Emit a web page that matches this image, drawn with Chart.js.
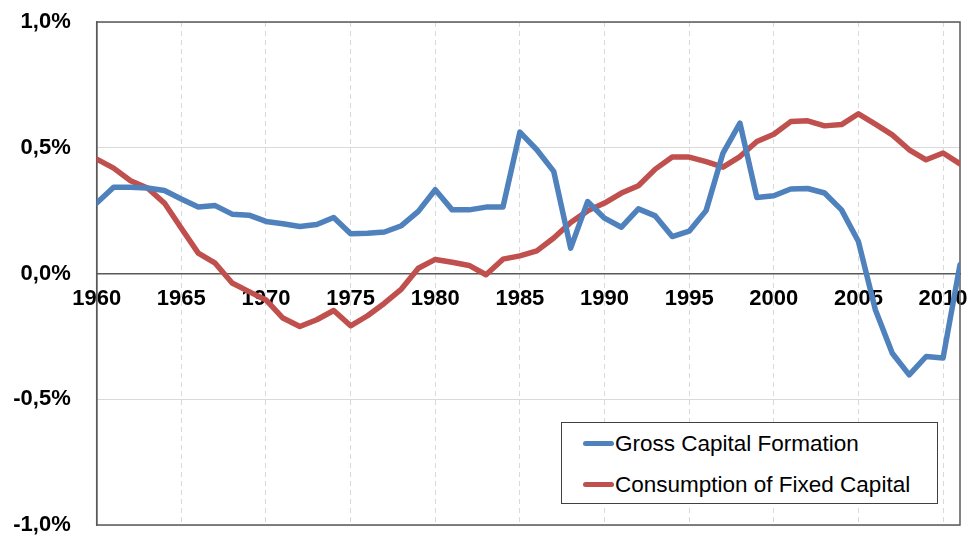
<!DOCTYPE html>
<html lang="en">

<head>
    <meta charset="UTF-8">
    <title>Gross Capital Formation vs Consumption of Fixed Capital</title>
    <script src="https://cdn.jsdelivr.net/npm/chart.js"></script>
    <style>
        body {
            margin: 0;
            background: #fff;
        }

        #wrap {
            position: relative;
            width: 971px;
            height: 540px;
        }

        #legend {
            position: absolute;
            left: 561px;
            top: 422px;
            width: 377px;
            height: 82px;
            box-sizing: border-box;
            border: 1px solid #404040;
            background: #fff;
            font-family: "Liberation Sans", Arial, sans-serif;
            font-size: 22.5px;
            color: #000;
        }

        #legend .row {
            display: flex;
            align-items: center;
            height: 41px;
        }

        #legend .swatch {
            width: 31px;
            height: 5px;
            border-radius: 3px;
            margin-left: 21px;
            margin-right: 1px;
        }
    </style>
</head>

<body>
    <div id="wrap">
        <canvas id="lineChart" width="971" height="540"></canvas>
        <div id="legend"></div>
    </div>

    <script>
        const years = [];
        for (let y = 1960; y <= 2011; y++) years.push(y);

        // % values, 1960..2011
        const grossCapitalFormation = [
            0.28, 0.343, 0.343, 0.34, 0.33, 0.296, 0.264, 0.27, 0.236, 0.232,
            0.207, 0.198, 0.187, 0.195, 0.223, 0.158, 0.16, 0.165, 0.19, 0.247,
            0.333, 0.253, 0.253, 0.264, 0.264, 0.562, 0.492, 0.406, 0.101, 0.286,
            0.22, 0.184, 0.257, 0.229, 0.147, 0.168, 0.25, 0.479, 0.598, 0.302,
            0.309, 0.336, 0.338, 0.32, 0.253, 0.127, -0.144, -0.317, -0.403, -0.33,
            -0.336, 0.035
        ];
        const consumptionFixedCapital = [
            0.455, 0.419, 0.369, 0.34, 0.28, 0.18, 0.081, 0.041, -0.038, -0.072,
            -0.105, -0.177, -0.211, -0.184, -0.147, -0.208, -0.168, -0.118, -0.062, 0.021,
            0.056, 0.045, 0.032, -0.005, 0.057, 0.07, 0.09, 0.141, 0.203, 0.249,
            0.28, 0.32, 0.349, 0.415, 0.463, 0.463, 0.445, 0.423, 0.465, 0.525,
            0.554, 0.604, 0.607, 0.587, 0.592, 0.635, 0.594, 0.551, 0.492, 0.452,
            0.479, 0.436
        ];
        const seriesNames = ["Gross Capital Formation", "Consumption of Fixed Capital"];
        const seriesColors = ["#4F81BD", "#C0504D"];

        const tickFont = { family: "'Liberation Sans', Arial, sans-serif", size: 22, weight: 'bold' };
        const frameColor = '#595959';

        // box around the plot area
        const framePlugin = {
            id: 'frame',
            beforeDatasetsDraw(chart) {
                const { ctx, chartArea: a } = chart;
                ctx.save();
                ctx.strokeStyle = frameColor;
                ctx.lineWidth = 1.5;
                ctx.strokeRect(a.left, a.top, a.right - a.left, a.bottom - a.top);
                ctx.restore();
            }
        };

        const toPoints = vals => years.map((y, i) => ({ x: y, y: vals[i] }));

        const chart = new Chart(document.getElementById('lineChart').getContext('2d'), {
            type: 'line',
            data: {
                datasets: [
                    {
                        label: seriesNames[0],
                        data: toPoints(grossCapitalFormation),
                        borderColor: seriesColors[0],
                        borderWidth: 5.5,
                        pointRadius: 0,
                        tension: 0,
                        borderJoinStyle: 'round',
                        borderCapStyle: 'round'
                    },
                    {
                        label: seriesNames[1],
                        data: toPoints(consumptionFixedCapital),
                        borderColor: seriesColors[1],
                        borderWidth: 5.5,
                        pointRadius: 0,
                        tension: 0,
                        borderJoinStyle: 'round',
                        borderCapStyle: 'round'
                    }
                ]
            },
            options: {
                responsive: false,
                animation: false,
                layout: { padding: { left: 0, top: 22, right: 11, bottom: 15 } },
                plugins: {
                    legend: { display: false },
                    tooltip: { enabled: false }
                },
                scales: {
                    x: {
                        type: 'linear',
                        min: 1960,
                        max: 2011,
                        position: { y: 0 },
                        afterFit: s => { s.height = 0; },
                        grid: {
                            color: c => (c.tick && c.tick.value === 1960) ? 'rgba(0,0,0,0)' : '#d9d9d9',
                            lineWidth: 1,
                            drawTicks: true,
                            tickLength: 12,
                            tickColor: 'rgba(0,0,0,0)'
                        },
                        border: { display: true, color: frameColor, width: 1.5, dash: [5, 4] },
                        ticks: {
                            stepSize: 5,
                            includeBounds: false,
                            autoSkip: false,
                            maxRotation: 0,
                            padding: 0,
                            color: '#000',
                            font: tickFont,
                            callback: v => String(v)
                        }
                    },
                    y: {
                        min: -1,
                        max: 1,
                        afterFit: s => { s.width = 96.7; },
                        grid: {
                            color: c => (c.tick && c.tick.value === 0) ? 'rgba(0,0,0,0)' : '#d9d9d9',
                            lineWidth: 1,
                            drawTicks: true,
                            tickLength: 26,
                            tickColor: 'rgba(0,0,0,0)'
                        },
                        border: { display: true, color: frameColor, width: 1.5 },
                        ticks: {
                            stepSize: 0.5,
                            padding: 0,
                            color: '#000',
                            font: tickFont,
                            callback: v => v.toFixed(1).replace('.', ',') + '%'
                        }
                    }
                }
            },
            plugins: [framePlugin]
        });

        // legend box inside the plot
        const legendEl = document.getElementById('legend');
        chart.data.datasets.forEach(ds => {
            const row = document.createElement('div');
            row.className = 'row';
            const sw = document.createElement('span');
            sw.className = 'swatch';
            sw.style.background = ds.borderColor;
            const txt = document.createElement('span');
            txt.textContent = ds.label;
            row.appendChild(sw);
            row.appendChild(txt);
            legendEl.appendChild(row);
        });
    </script>
</body>

</html>
